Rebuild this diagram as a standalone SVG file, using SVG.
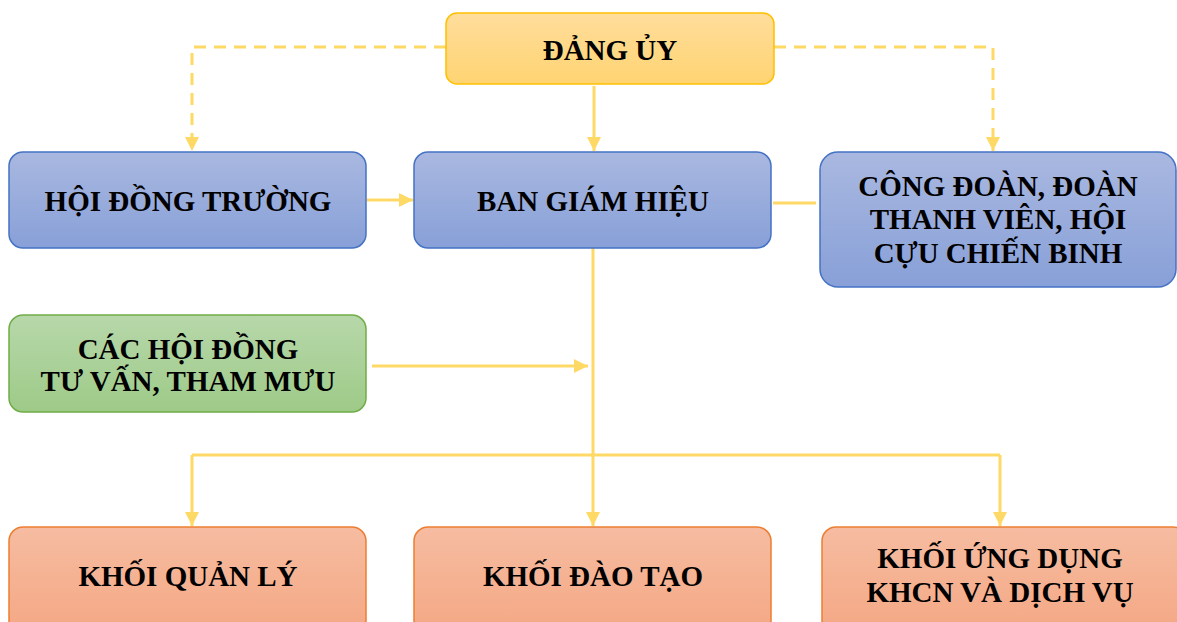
<svg xmlns="http://www.w3.org/2000/svg" width="1177" height="622" viewBox="0 0 1177 622">
<style>
text{font-family:'Liberation Serif','Times New Roman',serif;font-weight:bold;font-size:29px;fill:#000;text-anchor:middle}
.c{fill:none;stroke:#FFD966;stroke-width:3}
.d{fill:none;stroke:#FFD966;stroke-width:3;stroke-dasharray:12 8}
</style>
<defs>
<linearGradient id="gy" x1="0" y1="0" x2="0" y2="1"><stop offset="0" stop-color="#FFDD9C"/><stop offset="1" stop-color="#FFD472"/></linearGradient>
<linearGradient id="gb" x1="0" y1="0" x2="0" y2="1"><stop offset="0" stop-color="#A9B8E0"/><stop offset="1" stop-color="#88A0D8"/></linearGradient>
<linearGradient id="gg" x1="0" y1="0" x2="0" y2="1"><stop offset="0" stop-color="#B7D8AA"/><stop offset="1" stop-color="#9ECA88"/></linearGradient>
<linearGradient id="go" x1="0" y1="0" x2="0" y2="1"><stop offset="0" stop-color="#F6BCA1"/><stop offset="1" stop-color="#F4A783"/></linearGradient>
<marker id="a" markerUnits="userSpaceOnUse" markerWidth="16" markerHeight="16" refX="14" refY="8" orient="auto"><path d="M0,1 L14,8 L0,15 Z" fill="#FFD966"/></marker>
</defs>
<g id="connectors">
<path class="d" d="M446,47 H192 V151" marker-end="url(#a)"/>
<path class="d" d="M774,47 H993 V151" marker-end="url(#a)"/>
<path class="c" d="M594,86 V151" marker-end="url(#a)"/>
<path class="c" d="M367,200 H413" marker-end="url(#a)"/>
<path class="c" d="M773,203 H816"/>
<path class="c" d="M372,366 H588" marker-end="url(#a)"/>
<path class="c" d="M593,248 V526" marker-end="url(#a)"/>
<path class="c" d="M192,455 H1000"/>
<path class="c" d="M192,455 V526" marker-end="url(#a)"/>
<path class="c" d="M1000,455 V526" marker-end="url(#a)"/>
</g>
<g id="dang-uy">
<rect x="446" y="13" width="328" height="71" rx="11" fill="url(#gy)" stroke="#FFC000" stroke-width="1.5"/>
<text x="610" y="60">ĐẢNG ỦY</text>
</g>
<g id="hoi-dong-truong">
<rect x="9" y="152" width="357" height="96" rx="14" fill="url(#gb)" stroke="#4472C4" stroke-width="1.5"/>
<text x="188" y="211">HỘI ĐỒNG TRƯỜNG</text>
</g>
<g id="ban-giam-hieu">
<rect x="414" y="152" width="357" height="96" rx="14" fill="url(#gb)" stroke="#4472C4" stroke-width="1.5"/>
<text x="593" y="211">BAN GIÁM HIỆU</text>
</g>
<g id="cong-doan">
<rect x="820" y="152" width="356" height="135" rx="18" fill="url(#gb)" stroke="#4472C4" stroke-width="1.5"/>
<text x="998" y="196">CÔNG ĐOÀN, ĐOÀN</text>
<text x="998" y="229">THANH VIÊN, HỘI</text>
<text x="998" y="263">CỰU CHIẾN BINH</text>
</g>
<g id="cac-hoi-dong">
<rect x="9" y="315" width="357" height="97" rx="14" fill="url(#gg)" stroke="#70AD47" stroke-width="1.5"/>
<text x="188" y="359">CÁC HỘI ĐỒNG</text>
<text x="188" y="391">TƯ VẤN, THAM MƯU</text>
</g>
<g id="khoi-quan-ly">
<rect x="9" y="527" width="357" height="110" rx="14" fill="url(#go)" stroke="#ED7D31" stroke-width="1.5"/>
<text x="188" y="586">KHỐI QUẢN LÝ</text>
</g>
<g id="khoi-dao-tao">
<rect x="414" y="527" width="357" height="110" rx="14" fill="url(#go)" stroke="#ED7D31" stroke-width="1.5"/>
<text x="593" y="586">KHỐI ĐÀO TẠO</text>
</g>
<g id="khoi-ung-dung">
<rect x="822" y="527" width="365" height="110" rx="14" fill="url(#go)" stroke="#ED7D31" stroke-width="1.5"/>
<text x="1000" y="568">KHỐI ỨNG DỤNG</text>
<text x="1000" y="602">KHCN VÀ DỊCH VỤ</text>
</g>
</svg>
